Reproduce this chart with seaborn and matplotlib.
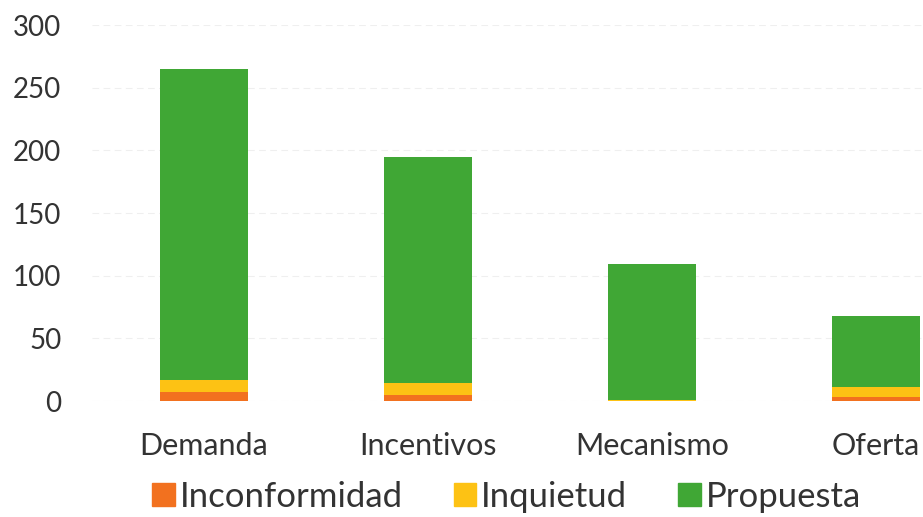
import numpy as np
import pandas as pd
import matplotlib.pyplot as plt
import seaborn as sns
from matplotlib.patches import Patch

categories = ['Demanda', 'Incentivos', 'Mecanismo', 'Oferta']
inconformidad = [7, 5, 0, 3]
inquietud = [10, 9, 1, 8]
propuesta = [248, 181, 108, 57]

colorOrange = '#F2711F'
colorYellow = '#FDC214'
colorGreen = '#40A735'

sns.set_theme(style='white')
plt.rcParams['font.family'] = ['Lato', 'DejaVu Sans']

df = pd.DataFrame({'Categoria': categories,
                   'Inconformidad': inconformidad,
                   'Inquietud': inquietud,
                   'Propuesta': propuesta})
df['lvl1'] = df['Inconformidad']
df['lvl2'] = df['lvl1'] + df['Inquietud']
df['lvl3'] = df['lvl2'] + df['Propuesta']

fig = plt.figure(figsize=(9.23, 5.17), dpi=100)
fig.patch.set_facecolor('white')
# axes run past the right edge, as in the cropped reference
ax = fig.add_axes([92/923, 1-401/517, 896/923, 376/517])

#Stack the layers by drawing cumulative totals from the top down
for col, c in [('lvl3', colorGreen), ('lvl2', colorYellow), ('lvl1', colorOrange)]:
    sns.barplot(data=df, x='Categoria', y=col, color=c, width=0.395, saturation=1,
                linewidth=0, edgecolor='none', ax=ax)

ax.set_ylim(0, 300)
ax.set_yticks(np.arange(0, 301, 50))
ax.yaxis.grid(True, color='#efefef', lw=0.8, ls=(0, (6, 4)))
ax.set_axisbelow(True)
for s in ax.spines.values():
    s.set_visible(False)
ax.set_xlabel('')
ax.set_ylabel('')
ax.tick_params(axis='y', labelsize=20, colors='#333333', pad=22, length=0)
ax.tick_params(axis='x', labelsize=22, colors='#333333', pad=22, length=0)
ax.set_xlim(-0.5, 3.5)

handles = [Patch(color=colorOrange, label='Inconformidad'),
           Patch(color=colorYellow, label='Inquietud'),
           Patch(color=colorGreen, label='Propuesta')]
fig.legend(handles=handles, loc='center left', bbox_to_anchor=(152/923, 1-497/517),
           ncol=3, frameon=False, fontsize=25, handlelength=0.65, handleheight=0.65,
           handletextpad=0.15, columnspacing=1.46, labelcolor='#333333',
           borderaxespad=0, borderpad=0)

plt.savefig('out.png', dpi=100, facecolor='white')
